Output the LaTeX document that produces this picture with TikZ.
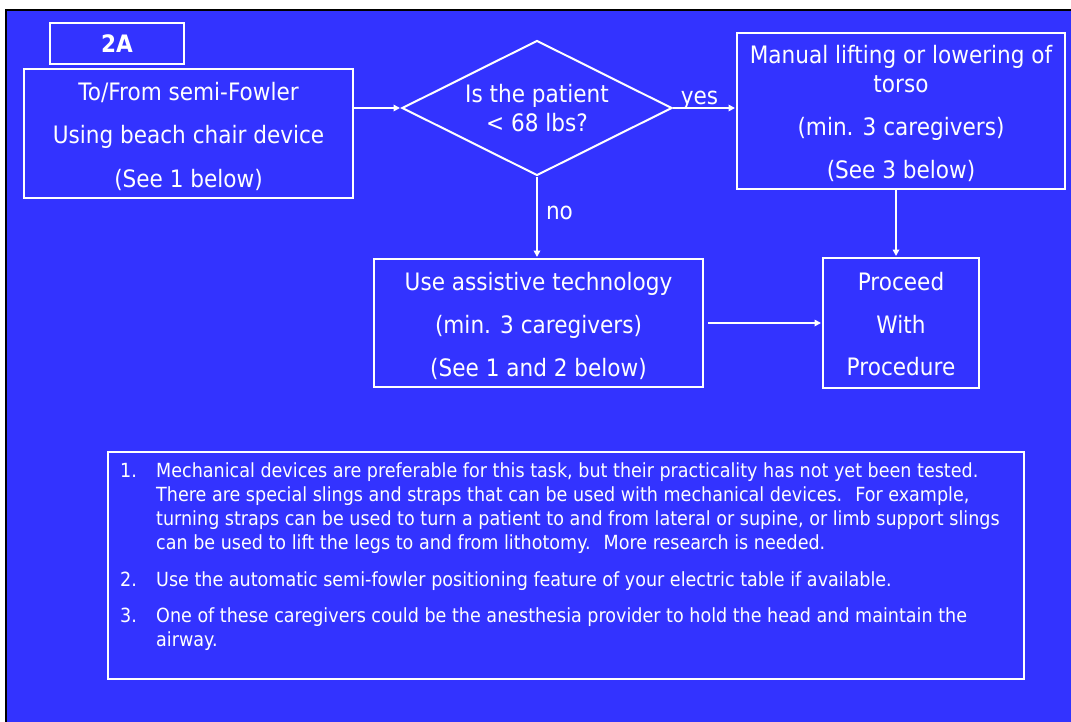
\documentclass[tikz,border=0pt]{standalone}
\usepackage{fontspec}
\setmainfont{DejaVu Sans}[FakeStretch=0.9]
\usetikzlibrary{shapes.geometric,arrows.meta}

\definecolor{slideblue}{RGB}{51,51,255}
\newcommand\boxfont{\fontsize{24}{29}\selectfont}
\newcommand\notefont{\fontsize{19.5}{24}\selectfont}
% taller first line, which sets a box's text a little lower
\newcommand\topstrut[1]{\rule{0pt}{#1}}

\tikzset{
  box/.style={draw=white, line width=2pt, text=white, align=center,
              font=\boxfont, inner sep=0pt},
  decision/.style={diamond, draw=white, line width=2pt, inner sep=0pt,
                   minimum width=270pt, minimum height=135pt},
  flow/.style={draw=white, line width=2pt, -{Triangle[length=6.5pt,width=6.5pt]},
               shorten >=1pt},
  tag/.style={text=white, font=\boxfont, inner sep=2pt}
}

\begin{document}
\begin{tikzpicture}[x=1pt, y=-1pt]
  \useasboundingbox (0,0) rectangle (1071,721);
  % slide background with its dark frame
  \fill[slideblue] (6,10) rectangle (1080,730);
  \draw[black, line width=2.5pt] (6,730) -- (6,10) -- (1080,10);

  % flowchart boxes
  \node[box, minimum width=134pt, minimum height=41pt] (label2a) at (117,43.5)
    {\bfseries 2A};
  \node[box, minimum width=329pt, minimum height=129pt] (start) at (188.5,133.5)
    {\topstrut{24pt}To/From semi-Fowler\\[14pt]Using beach chair device\\[15pt](See 1 below)};
  \node[decision, label={[text=white, font=\boxfont, align=center]center:Is the patient\\[0pt]< 68 lbs?}]
    (check) at (537,108) {};
  \node[box, minimum width=328pt, minimum height=156pt] (manual) at (901,111)
    {\topstrut{23pt}Manual lifting or lowering of\\[0pt]torso\\[14pt](min. 3 caregivers)\\[14pt](See 3 below)};
  \node[box, minimum width=329pt, minimum height=128pt] (assist) at (538.5,323)
    {\topstrut{24pt}Use assistive technology\\[14pt](min. 3 caregivers)\\[14pt](See 1 and 2 below)};
  \node[box, minimum width=156pt, minimum height=130pt] (proceed) at (901,323)
    {\topstrut{20.5pt}Proceed\\[14pt]With\\[13pt]Procedure};

  % connectors
  \draw[flow] (start.east |- check.west) -- (check.west);
  \draw[flow] (check.east) -- node[tag, pos=0.42, above, inner sep=0pt, yshift=-2pt] (yes) {yes}
    (check.east -| manual.west);
  \draw[flow] (check.south) -- node[tag, pos=0.45, right, xshift=6pt] (no) {no}
    (check.south |- assist.north);
  \draw[flow] ([xshift=-5pt]manual.south) -- ([xshift=-5pt]manual.south |- proceed.north);
  \draw[flow, shorten <=4pt] (assist.east) -- (proceed.west);

  % footnotes
  \node[draw=white, line width=2pt, minimum width=916pt, minimum height=227pt,
        inner sep=0pt] (notes) at (566,565.5) {};
  \node[anchor=base west, text=white, font=\notefont, inner sep=0pt] (notelist) at (120,477)
  {\begin{tabular}[t]{@{}p{36pt}@{}l@{}}
    1. & Mechanical devices are preferable for this task, but their practicality has not yet been tested.\\
       & There are special slings and straps that can be used with mechanical devices.~ For example,\\
       & turning straps can be used to turn a patient to and from lateral or supine, or limb support slings\\
       & can be used to lift the legs to and from lithotomy.~ More research is needed.\\[13pt]
    2. & Use the automatic semi-fowler positioning feature of your electric table if available.\\[12pt]
    3. & One of these caregivers could be the anesthesia provider to hold the head and maintain the\\
       & airway.
  \end{tabular}};
\end{tikzpicture}
\end{document}
